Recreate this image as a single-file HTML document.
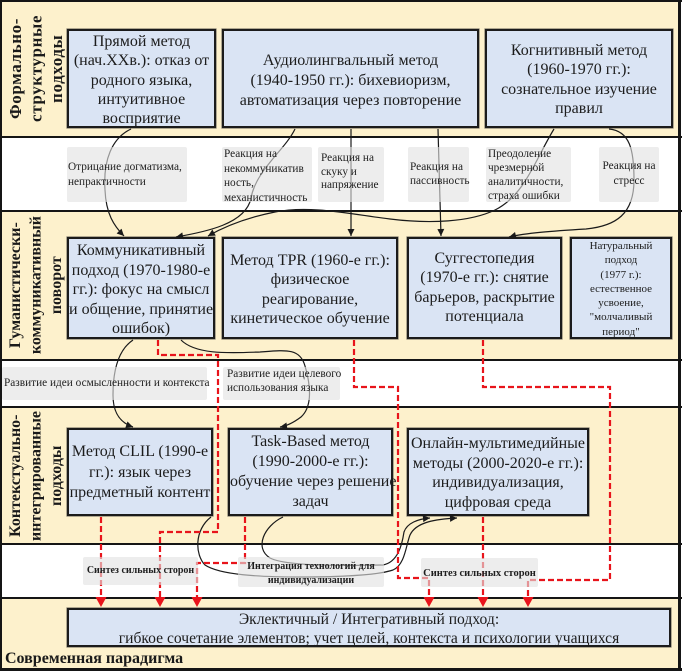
<!DOCTYPE html>
<html><head><meta charset="utf-8">
<style>
html,body{margin:0;padding:0;}
body{width:682px;height:671px;position:relative;overflow:hidden;background:#fff;font-family:"Liberation Serif","DejaVu Serif",serif;color:#1c1c1c;}
.abs{position:absolute;}
.beige{position:absolute;left:2px;width:676px;background:#fdf1cc;}
.hl{position:absolute;left:0;width:682px;height:2px;background:#151515;}
.box{position:absolute;box-sizing:border-box;border:2px solid #1b1b1b;background:#dae4f4;box-shadow:0 0 0 0.6px rgba(40,40,40,0.6);text-align:center;font-size:16px;white-space:nowrap;}
.lab{position:absolute;background:rgba(226,226,226,0.62);border-radius:2px;}
.lt{position:absolute;font-size:11.3px;white-space:nowrap;color:#1e1e1e;}
.vcont{position:absolute;left:4px;width:66px;display:flex;align-items:center;justify-content:center;}
.vt{writing-mode:vertical-rl;transform:rotate(180deg);font-weight:bold;font-size:16px;line-height:20.5px;text-align:center;white-space:nowrap;color:#1a1a1a;}
</style></head>
<body>
<!-- bands -->
<div class="beige" style="top:1px;height:136px"></div>
<div class="beige" style="top:211px;height:149px"></div>
<div class="beige" style="top:407px;height:137px"></div>
<div class="beige" style="top:598px;height:71px"></div>
<!-- lines -->
<div class="hl" style="top:0"></div>
<div class="hl" style="top:136px"></div>
<div class="hl" style="top:210px"></div>
<div class="hl" style="top:359px"></div>
<div class="hl" style="top:406px"></div>
<div class="hl" style="top:543px"></div>
<div class="hl" style="top:597px"></div>
<div class="abs" style="left:0;top:668px;width:682px;height:3px;background:#151515"></div>
<div class="abs" style="left:0;top:0;width:2px;height:671px;background:#151515"></div>
<div class="abs" style="left:678px;top:0;width:3px;height:671px;background:#151515"></div>

<!-- vertical titles -->
<div class="vcont" style="top:1px;height:135px"><div class="vt" style="font-size:17px;letter-spacing:0.6px">Формально-<br>структурные<br>подходы</div></div>
<div class="vcont" style="top:212px;height:147px"><div class="vt">Гуманистически-<br>коммуникативный<br>поворот</div></div>
<div class="vcont" style="top:408px;height:135px"><div class="vt">Контекстуально-<br>интегрированные<br>подходы</div></div>

<!-- row 1 boxes -->
<div class="box" style="left:67px;top:29px;width:149px;height:99px;line-height:19.3px;padding-top:1px">Прямой метод<br>(нач.XXв.): отказ от<br>родного языка,<br>интуитивное<br>восприятие</div>
<div class="box" style="left:222px;top:29px;width:257px;height:99px;line-height:20px;padding-top:20px">Аудиолингвальный метод<br>(1940-1950 гг.): бихевиоризм,<br>автоматизация через повторение</div>
<div class="box" style="left:485px;top:29px;width:188px;height:99px;line-height:19.3px;padding-top:10px">Когнитивный метод<br>(1960-1970 гг.):<br>сознательное изучение<br>правил</div>

<!-- row 2 boxes -->
<div class="box" style="left:67px;top:237px;width:148px;height:102px;line-height:19.5px;padding-top:2px">Коммуникативный<br>подход (1970-1980-е<br>гг.): фокус на смысл<br>и общение, принятие<br>ошибок)</div>
<div class="box" style="left:222px;top:237px;width:176px;height:102px;line-height:19.3px;padding-top:12px">Метод TPR (1960-е гг.):<br>физическое<br>реагирование,<br>кинетическое обучение</div>
<div class="box" style="left:407px;top:237px;width:155px;height:102px;line-height:19.3px;padding-top:10px">Суггестопедия<br>(1970-е гг.): снятие<br>барьеров, раскрытие<br>потенциала</div>
<div class="box" style="left:570px;top:237px;width:102px;height:102px;line-height:14.3px;padding-top:0;font-size:11px">Натуральный<br>подход<br>(1977 г.):<br>естественное<br>усвоение,<br>"молчаливый<br>период"</div>

<!-- row 3 boxes -->
<div class="box" style="left:67px;top:428px;width:146px;height:88px;line-height:20.5px;padding-top:12px">Метод CLIL (1990-е<br>гг.): язык через<br>предметный контент</div>
<div class="box" style="left:228px;top:428px;width:165px;height:88px;line-height:20px;padding-top:2px">Task-Based метод<br>(1990-2000-е гг.):<br>обучение через решение<br>задач</div>
<div class="box" style="left:407px;top:428px;width:182px;height:88px;line-height:19.5px;padding-top:4px">Онлайн-мультимедийные<br>методы (2000-2020-е гг.):<br>индивидуализация,<br>цифровая среда</div>

<!-- bottom box -->
<div class="box" style="left:67px;top:608px;width:604px;height:39px;line-height:19px;padding-top:0;font-size:15.6px">Эклектичный / Интегративный подход:<br>гибкое сочетание элементов; учет целей, контекста и психологии учащихся</div>

<div class="abs" style="left:5px;top:650px;font-size:16px;font-weight:bold;line-height:18px;white-space:nowrap;color:#1a1a1a">Современная парадигма</div>

<!-- connectors -->
<svg class="abs" style="left:0;top:0" width="682" height="671" viewBox="0 0 682 671">
<defs>
<marker id="ab" viewBox="0 0 10 10" refX="10" refY="5" markerWidth="8" markerHeight="7" orient="auto" markerUnits="userSpaceOnUse"><path d="M0,0 L10,5 L0,10 z" fill="#1a1a1a"/></marker>
</defs>
<g fill="none" stroke="#1a1a1a" stroke-width="1.2" marker-end="url(#ab)">
<path d="M131,129 C112,138 103,160 105,190 C106,214 114,226 124,236"/>
<path d="M295,129 C285,150 256,170 251,198 C246,224 205,232 176,237"/>
<path d="M351,129 L351,236"/>
<path d="M438,129 L441,236"/>
<path d="M554,129 C535,160 525,195 495,210 C470,222 430,224 390,219 C350,214 310,205 275,212 C245,218 222,228 208,236"/>
<path d="M609,129 C630,131 634,150 634,180 C634,214 616,226 586,229 C552,231 526,233 509,237"/>
<path d="M133,340 C118,350 113,370 113,395 C113,414 121,423 133,427"/>
<path d="M181,340 C196,355 230,353 260,352 C286,350 300,348 305,366 C312,390 311,408 301,417 C293,423 287,426 280,427"/>
<path d="M211,517 C194,530 195,555 205,565 C220,575 260,577 300,577 C340,577 378,575 393,570 C405,565 406,545 410,535 C416,522 436,519 457,518"/>
<path d="M283,517 C264,526 254,548 270,558 C285,566 340,566 383,565 C398,562 402,545 404,532 C407,523 418,519 430,518"/>
</g>
<g fill="none" stroke="#e8141b" stroke-width="2.2" stroke-dasharray="6 3">
<path d="M158,340 V355 H218 V532 H160 V598"/>
<path d="M101,517 V598"/>
<path d="M245,517 V563 H197 V598"/>
<path d="M354,340 V387 H398 V578 H429 V598"/>
<path d="M483,517 V598"/>
<path d="M483,340 V387 H610 V580 H528 V598"/>
</g>
<g fill="#e8141b">
<polygon points="154.5,597 165.5,597 160,607"/>
<polygon points="95.5,597 106.5,597 101,607"/>
<polygon points="191.5,597 202.5,597 197,607"/>
<polygon points="423.5,597 434.5,597 429,607"/>
<polygon points="477.5,597 488.5,597 483,607"/>
<polygon points="522.5,597 533.5,597 528,607"/>
</g>
</svg>

<!-- labels (semi-transparent, above lines) -->
<div class="lab" style="left:67px;top:147px;width:120px;height:55px"></div>
<div class="lab" style="left:222px;top:147px;width:90px;height:55px"></div>
<div class="lab" style="left:318px;top:147px;width:66px;height:55px"></div>
<div class="lab" style="left:408px;top:147px;width:61px;height:55px"></div>
<div class="lab" style="left:486px;top:147px;width:85px;height:55px"></div>
<div class="lab" style="left:599px;top:147px;width:60px;height:55px"></div>
<div class="lab" style="left:2px;top:367px;width:205px;height:33px"></div>
<div class="lab" style="left:223px;top:367px;width:117px;height:33px"></div>
<div class="lab" style="left:83px;top:557px;width:115px;height:28px"></div>
<div class="lab" style="left:238px;top:557px;width:146px;height:30px"></div>
<div class="lab" style="left:421px;top:558px;width:117px;height:29px"></div>

<div class="lt" style="left:68px;top:160px;line-height:15px">Отрицание догматизма,<br>непрактичности</div>
<div class="lt" style="left:224px;top:147px;line-height:14.7px">Реакция на<br>некоммуникатив<br>ность,<br>механистичность</div>
<div class="lt" style="left:321px;top:152px;line-height:13.7px">Реакция на<br>скуку и<br>напряжение</div>
<div class="lt" style="left:410px;top:160px;line-height:14px">Реакция на<br>пассивность</div>
<div class="lt" style="left:488px;top:147px;line-height:14px">Преодоление<br>чрезмерной<br>аналитичности,<br>страха ошибки</div>
<div class="lt" style="left:599px;top:159px;width:60px;text-align:center;line-height:15px">Реакция на<br>стресс</div>
<div class="lt" style="left:4px;top:376px;line-height:15px">Развитие идеи осмысленности и контекста</div>
<div class="lt" style="left:227px;top:368px;line-height:13.5px">Развитие идеи целевого<br>использования языка</div>
<div class="lt" style="left:83px;top:564px;width:115px;text-align:center;font-size:10px;font-weight:bold;line-height:14px">Синтез сильных сторон</div>
<div class="lt" style="left:238px;top:560px;width:146px;text-align:center;font-size:10px;font-weight:bold;line-height:14px">Интеграция технологий для<br>индивидуализации</div>
<div class="lt" style="left:421px;top:567px;width:117px;text-align:center;font-size:10.5px;font-weight:bold;line-height:14px">Синтез сильных сторон</div>
</body></html>
